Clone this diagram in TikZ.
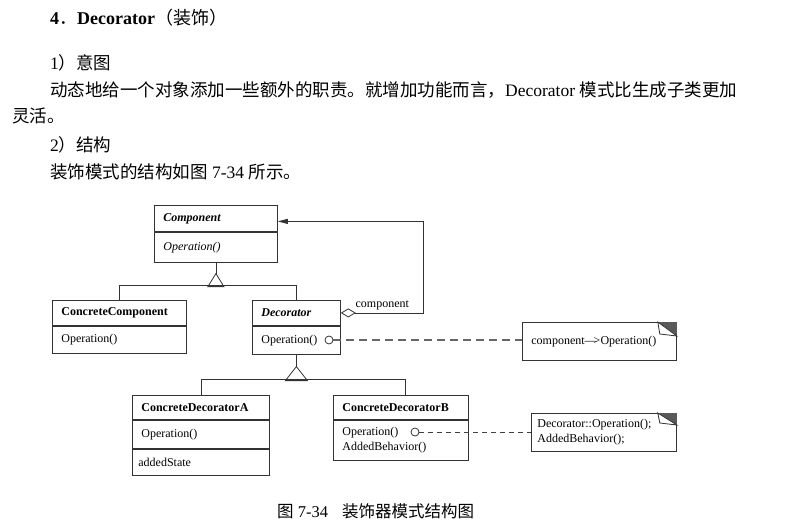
\documentclass[tikz,border=0pt]{standalone}
\usepackage{fontspec}
\setmainfont{Liberation Serif}
\newfontfamily\cjk{Noto Sans CJK SC}
\usetikzlibrary{positioning,arrows.meta}

\begin{document}
\begin{tikzpicture}[x=1pt, y=-1pt,
    box/.style={draw=black!80, line width=0.8pt, anchor=north west, inner xsep=9pt,
                inner ysep=0pt, align=left, font=\fontsize{12}{15}\selectfont},
    note/.style={box, minimum height=38pt},
    dot/.style={circle, draw=black!80, line width=0.8pt, minimum size=8pt, inner sep=0pt, fill=white},
    line/.style={draw=black!80, line width=0.8pt},
    agg/.style={line, {Diamond[open, length=15pt, width=9pt]}-{Triangle[length=10pt, width=5pt]}},
    link/.style={line, dash pattern=on 8pt off 5pt, line width=1.2pt, draw=black!60},
    linkb/.style={line, dash pattern=on 5pt off 4pt, draw=black!75},
    txt/.style={anchor=west, inner sep=0pt, font=\fontsize{17.5}{20}\selectfont},
    lbl/.style={font=\fontsize{12}{14}\selectfont, inner sep=2pt}
]
\useasboundingbox (0,0) rectangle (803,524);

% text above the figure
\node[txt, font=\fontsize{18}{20}\selectfont] (title) at (50,18)
    {\textbf{4}{\cjk ．}\textbf{Decorator}{\cjk （装饰）}};
\node[txt] (sec1) at (50,63) {1{\cjk ）意图}};
\node[txt] (line1) at (50,90)
    {{\cjk 动态地给一个对象添加一些额外的职责。就增加功能而言，}Decorator {\cjk 模式比生成子类更加}};
\node[txt] (line2) at (12,116) {{\cjk 灵活。}};
\node[txt] (sec2) at (50,145) {2{\cjk ）结构}};
\node[txt] (line3) at (50,172) {{\cjk 装饰模式的结构如图} 7-34 {\cjk 所示。}};

% classes
\node[box, text width=105pt, minimum height=26pt] (comphead) at (154,205) {\textbf{\textit{Component}}};
\node[box, below=0pt of comphead, text width=105pt, minimum height=30pt] (compop) {\textit{Operation()}};

\node[box, text width=116pt, minimum height=25pt] (cchead) at (52,300) {\textbf{ConcreteComponent}};
\node[box, below=0pt of cchead, text width=116pt, minimum height=27pt] (ccop) {Operation()};

\node[box, text width=70pt, minimum height=25pt] (dechead) at (252,300) {\textbf{\textit{Decorator}}};
\node[box, below=0pt of dechead, text width=70pt, minimum height=28pt] (decop) {Operation()};

\node[box, text width=119pt, minimum height=24pt] (cdahead) at (132,395) {\textbf{ConcreteDecoratorA}};
\node[box, below=0pt of cdahead, text width=119pt, minimum height=28pt] (cdaop) {Operation()};
\node[box, below=0pt of cdaop, text width=119pt, minimum height=26pt] (cdastate) {\hspace{-3pt}addedState};

\node[box, text width=117pt, minimum height=24pt] (cdbhead) at (333,395) {\textbf{ConcreteDecoratorB}};
\node[box, below=0pt of cdbhead, text width=117pt, minimum height=40pt] (cdbop) {Operation()\\AddedBehavior()};

% notes
\node[note, text width=136pt] (note1) at (522,322) {component\textemdash\kern-3pt>Operation()};
\node[note, inner xsep=6pt, text width=133pt] (note2) at (531,413) {Decorator::Operation();\\AddedBehavior();};
\foreach \n/\h/\f in {note1/14/12, note2/12/10} {
  \fill[black!65] ([xshift=-19pt]\n.north east) -- (\n.north east) -- ([yshift=-\h pt]\n.north east) -- cycle;
  \draw[line, fill=white] ([xshift=-19pt]\n.north east) -- ([xshift=-17pt, yshift=-\f pt]\n.north east)
       -- ([yshift=-\h pt]\n.north east) -- cycle;
}

% inheritance
\draw[line] (compop.south) -- ++(0,11) coordinate (tri1);
\draw[line] (tri1) -- ++(-8,13) -- ++(16,0) -- cycle;
\draw[line] (cchead.north) -- ++(0,-15) -| (dechead.north);

\draw[line] (decop.south) -- ++(0,12) coordinate (tri2);
\draw[line] (tri2) -- ++(-11,14) -- ++(22,0) -- cycle;
\draw[line] (cdahead.north) -- ++(0,-16) -| ([xshift=4pt]cdbhead.north);

% aggregation
\draw[agg] (dechead.east) -- node[lbl, above] {component} ++(83,0) |- ([yshift=-3pt]comphead.east);

% note links
\node[dot] (decdot) at (329,340) {};
\node[dot] (cdbdot) at (415,432) {};
\draw[link] (decdot) -- (decdot -| note1.west);
\draw[linkb] (cdbdot) -- (cdbdot -| note2.west);

% caption
\node[txt, font=\fontsize{16.5}{18}\selectfont] (caption) at (277,511)
    {{\cjk 图} 7-34\hspace{14pt}{\cjk 装饰器模式结构图}};
\end{tikzpicture}
\end{document}
